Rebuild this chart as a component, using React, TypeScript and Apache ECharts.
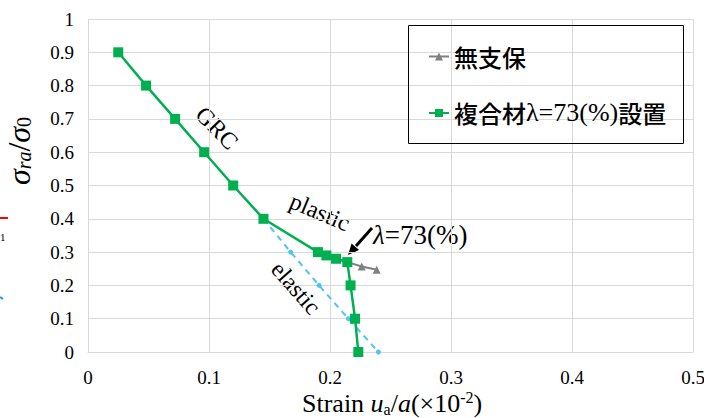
import React, { useEffect, useRef } from "react";
import * as echarts from "echarts";

const greenPoints: [number, number][] = [
  [0.025, 0.9], [0.048, 0.8], [0.072, 0.7], [0.096, 0.6], [0.12, 0.5], [0.145, 0.4],
  [0.19, 0.3], [0.197, 0.29], [0.205, 0.28], [0.2143, 0.27], [0.217, 0.2], [0.2207, 0.1], [0.2234, 0],
];
const grayPoints: [number, number][] = [[0.2143, 0.27], [0.2262, 0.257], [0.2386, 0.247]];
const elasticPoints: [number, number][] = [[0.145, 0.4], [0.1675, 0.3], [0.191, 0.2], [0.2152, 0.1], [0.24, 0]];
const seriesNames = ["無支保", "複合材λ=73(%)設置"];

export default function App() {
  const ref = useRef<HTMLDivElement>(null);
  useEffect(() => {
    if (!ref.current) return;
    const chart = echarts.init(ref.current, undefined, { renderer: "svg" });
    const serif = "'Liberation Serif', 'Times New Roman', serif";
    const cjk = "'Noto Sans CJK JP', sans-serif";
    const ax = "#d9d9d9";
    chart.setOption({
      animation: false,
      backgroundColor: "#fff",
      textStyle: { fontFamily: serif },
      grid: { left: 88, right: 11, top: 19, bottom: 66, outerBoundsMode: "none", containLabel: false },
      xAxis: {
        type: "value", min: 0, max: 0.5, interval: 0.1,
        axisLine: { show: true, lineStyle: { color: ax } },
        axisTick: { show: false },
        splitLine: { show: true, lineStyle: { color: ax, width: 1 } },
        axisLabel: { fontFamily: serif, fontSize: 19, color: "#000", margin: 16 },
      },
      yAxis: {
        type: "value", min: 0, max: 1, interval: 0.1,
        axisLine: { show: true, lineStyle: { color: ax } },
        axisTick: { show: false },
        splitLine: { show: true, lineStyle: { color: ax, width: 1 } },
        axisLabel: { fontFamily: serif, fontSize: 19, color: "#000", margin: 14 },
      },
      legend: {
        orient: "vertical", left: 423, top: 39.5, itemGap: 31.5,
        itemWidth: 20, itemHeight: 10,
        data: seriesNames,
        formatter: (name: string) =>
          name === seriesNames[0] ? "{c|無支保}" : "{c|複合材}{s|λ=73(%)}{c|設置}",
        textStyle: {
          fontFamily: cjk,
          rich: {
            c: { fontFamily: cjk, fontSize: 24, fontWeight: 500, color: "#000", lineHeight: 28 },
            s: { fontFamily: serif, fontSize: 26, color: "#000", lineHeight: 28 },
          },
        },
      },
      series: [
        {
          name: "elastic", type: "line", data: elasticPoints,
          symbol: "circle", symbolSize: 5,
          lineStyle: { color: "#4fc3f7", width: 2, type: [6, 5] },
          itemStyle: { color: "#4fc3f7" }, z: 1,
        },
        {
          name: seriesNames[0], type: "line", data: grayPoints,
          symbol: "triangle", symbolSize: 8,
          lineStyle: { color: "#808080", width: 2 },
          itemStyle: { color: "#808080" }, z: 2,
        },
        {
          name: seriesNames[1], type: "line", data: greenPoints,
          symbol: "rect", symbolSize: 10,
          lineStyle: { color: "#00b050", width: 2.5 },
          itemStyle: { color: "#00b050" }, z: 3,
        },
      ],
      graphic: [
        { type: "rect", shape: { x: 408.5, y: 25.5, width: 275, height: 118 }, style: { fill: "none", stroke: "#000", lineWidth: 1 }, z: 10 },
        // x axis title
        {
          type: "text", x: 302, y: 403,
          style: {
            text: "{n|Strain }{i|u}{sub|a}{n|/}{i|a}{n|(×10}{sup|-2}{n|)}",
            align: "left", verticalAlign: "middle",
            rich: {
              n: { fontFamily: serif, fontSize: 26, fill: "#000", lineHeight: 28 },
              i: { fontFamily: serif, fontSize: 26, fontStyle: "italic", fill: "#000", lineHeight: 28 },
              sub: { fontFamily: serif, fontSize: 16, fill: "#000", lineHeight: 12, verticalAlign: "bottom" },
              sup: { fontFamily: serif, fontSize: 16, fill: "#000", lineHeight: 22, verticalAlign: "top" },
            },
          },
        },
        // y axis title
        {
          type: "text", x: 19, y: 151, rotation: Math.PI / 2,
          style: {
            text: "{i|σ}{sub|ra}{n|/}{i|σ}{sub0|0}",
            align: "center", verticalAlign: "middle",
            rich: {
              n: { fontFamily: serif, fontSize: 32, fill: "#000", lineHeight: 30 },
              i: { fontFamily: serif, fontSize: 32, fontStyle: "italic", fill: "#000", lineHeight: 30 },
              sub: { fontFamily: serif, fontSize: 20, fontStyle: "italic", fill: "#000", lineHeight: 16, verticalAlign: "bottom" },
              sub0: { fontFamily: serif, fontSize: 20, fill: "#000", lineHeight: 16, verticalAlign: "bottom" },
            },
          },
        },
        { type: "text", x: 217, y: 128, rotation: -0.8, style: { text: "GRC", fontFamily: serif, fontSize: 24, fill: "#000", align: "center", verticalAlign: "middle" } },
        { type: "text", x: 320, y: 212, rotation: -0.4, style: { text: "plastic", fontFamily: serif, fontSize: 24, fill: "#000", align: "center", verticalAlign: "middle" } },
        { type: "text", x: 296, y: 288, rotation: -0.85, style: { text: "elastic", fontFamily: serif, fontSize: 24, fill: "#000", align: "center", verticalAlign: "middle" } },
        {
          type: "text", x: 373, y: 235,
          style: {
            text: "{i|λ}{n|=73(%)}", align: "left", verticalAlign: "middle",
            rich: {
              i: { fontFamily: serif, fontSize: 27, fontStyle: "italic", fill: "#000" },
              n: { fontFamily: serif, fontSize: 27, fill: "#000" },
            },
          },
        },
        { type: "line", shape: { x1: 372, y1: 228, x2: 356, y2: 246 }, style: { stroke: "#000", lineWidth: 3 } },
        { type: "polygon", shape: { points: [[348, 255], [351.6, 243.5], [359, 250.1]] }, style: { fill: "#000" } },
        { type: "line", shape: { x1: 0, y1: 218, x2: 8, y2: 218 }, style: { stroke: "#ff0000", lineWidth: 2 } },
        { type: "text", x: 0, y: 237, style: { text: "1", fontFamily: serif, fontSize: 11, fill: "#000", verticalAlign: "middle" } },
        { type: "line", shape: { x1: 0, y1: 297, x2: 3, y2: 299 }, style: { stroke: "#1e90ff", lineWidth: 2 } },
      ],
    });
    return () => chart.dispose();
  }, []);
  return <div ref={ref} style={{ width: 704, height: 418, position: "absolute", left: 0, top: 0 }} />;
}
